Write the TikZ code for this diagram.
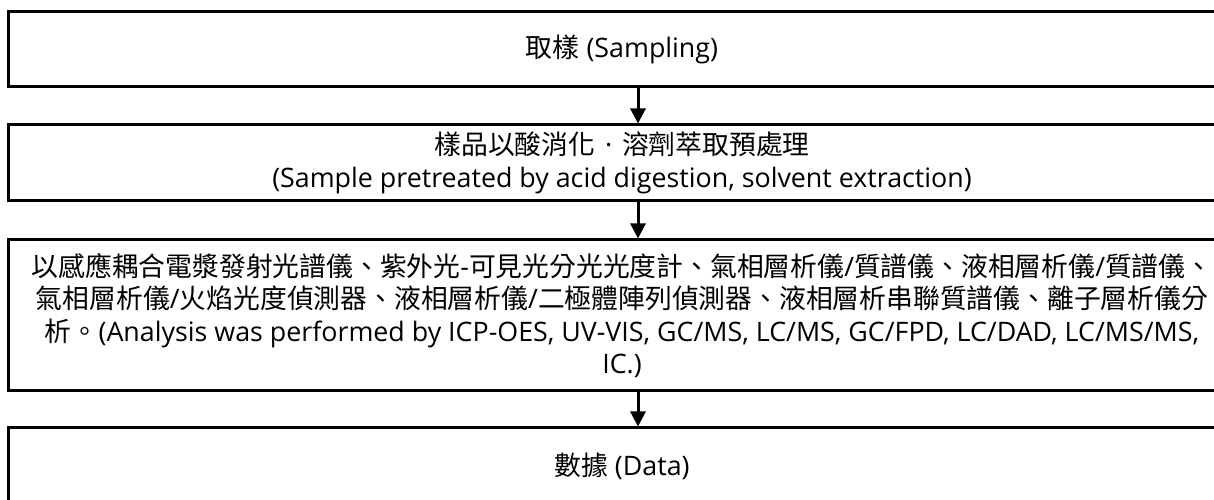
\documentclass[tikz,border=0pt]{standalone}
\usepackage{fontspec}
\setmainfont{Open Sans}
\newfontfamily\cjk{Noto Sans CJK TC}
\usetikzlibrary{arrows.meta}
\tikzset{
  flowbox/.style={draw, line width=3pt, minimum width=1228pt, inner sep=0pt, align=center,
    font=\fontsize{26.8}{32.5}\selectfont},
  flowarr/.style={line width=3pt, -{Triangle[width=15pt,length=15pt]}, shorten >=0pt}
}
\begin{document}
\begin{tikzpicture}[x=1pt,y=1pt]
\useasboundingbox (0,0) rectangle (1214,500);
\clip (0,0) rectangle (1214,500);
\fill[white] (0,0) rectangle (1214,500);
\node[flowbox, minimum height=75pt] (b1) at (622,450.5) {{\cjk 取樣} (Sampling)};
\node[flowbox, minimum height=76pt] (b2) at (622,337) {{\cjk 樣品以酸消化}\makebox[1em]{·}{\cjk 溶劑萃取預處理}\\(Sample pretreated by acid digestion, solvent extraction)};
\node[flowbox, minimum height=151pt] (b3) at (622,184.5) {{\cjk 以感應耦合電漿發射光譜儀、紫外光}-{\cjk 可見光分光光度計、氣相層析儀}/{\cjk 質譜儀、液相層析儀}/{\cjk 質譜儀、}\\{\cjk 氣相層析儀}/{\cjk 火焰光度偵測器、液相層析儀}/{\cjk 二極體陣列偵測器、液相層析串聯質譜儀、離子層析儀分}\\{\cjk 析。}(Analysis was performed by ICP-OES, UV-VIS, GC/MS, LC/MS, GC/FPD, LC/DAD, LC/MS/MS,\\IC.)};
\node[flowbox, minimum height=76pt] (b4) at (622,34) {{\cjk 數據} (Data)};
\coordinate (ax) at (638,0);
\draw[flowarr] (b1.south -| ax) -- (b2.north -| ax);
\draw[flowarr] (b2.south -| ax) -- (b3.north -| ax);
\draw[flowarr] (b3.south -| ax) -- (b4.north -| ax);
\end{tikzpicture}
\end{document}
